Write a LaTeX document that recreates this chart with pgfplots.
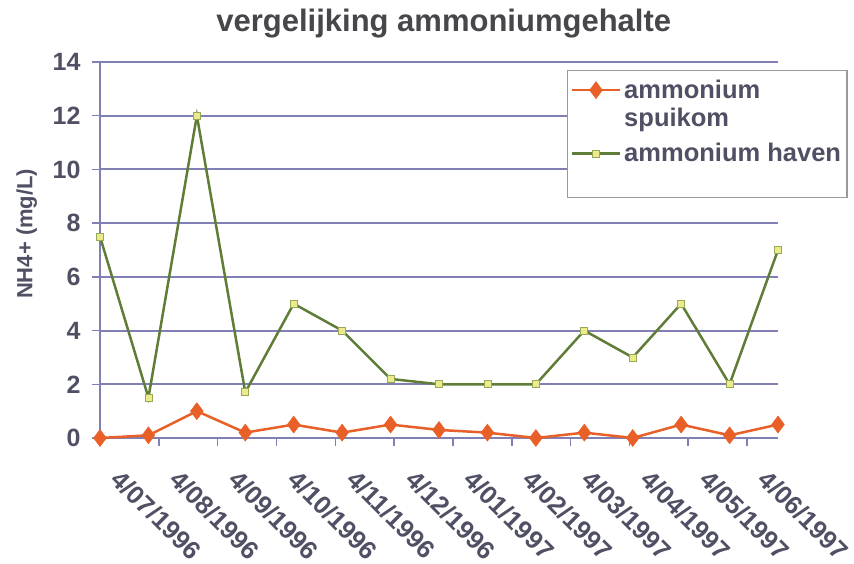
\documentclass[border=0pt]{standalone}
\usepackage{fontspec}
\setmainfont{Liberation Sans}
\usepackage{pgfplots}
\pgfplotsset{compat=1.18}
\definecolor{gridc}{RGB}{128,128,180}
\definecolor{txt}{RGB}{80,80,100}
\definecolor{ttl}{RGB}{70,70,75}
\definecolor{orng}{RGB}{232,96,40}
\definecolor{grn}{RGB}{95,125,55}
\definecolor{ylw}{RGB}{235,235,140}
\begin{document}
\begin{tikzpicture}[x=1pt,y=1pt]
\useasboundingbox (0,0) rectangle (854,563);
\begin{axis}[
  at={(100pt,125pt)}, anchor=south west,
  width=678pt, height=376pt, scale only axis,
  xmin=0, xmax=14, ymin=0, ymax=14,
  ytick={0,2,4,6,8,10,12,14},
  xtick={0,1.2146,2.4292,3.6438,4.8584,6.0730,7.2876,8.5022,9.7168,10.9314,12.1460,13.3606},
  xticklabels={4/07/1996,4/08/1996,4/09/1996,4/10/1996,4/11/1996,4/12/1996,4/01/1997,4/02/1997,4/03/1997,4/04/1997,4/05/1997,4/06/1997},
  axis x line*=bottom, axis y line*=left,
  axis line style={-, gridc, line width=1.5pt},
  ymajorgrids, grid style={gridc, line width=2pt},
  tick align=outside,
  major tick length=8pt,
  tick style={gridc, line width=1.5pt},
  /pgf/number format/assume math mode=true,
  yticklabel style={xshift=-8pt, font=\fontsize{25}{29}\selectfont\bfseries, text=txt},
  xticklabel style={xshift=23pt, yshift=-22pt, rotate=-45, anchor=north west, inner sep=0pt, font=\fontsize{25.5}{29}\selectfont\bfseries, text=txt},
  title={vergelijking ammoniumgehalte},
  title style={at={(axis description cs:0.507,1.064)}, anchor=base, font=\fontsize{31}{36}\selectfont\bfseries, text=ttl},
  ylabel={NH4+ (mg/L)},
  ylabel style={at={(axis description cs:-0.108,0.543)}, anchor=center, font=\fontsize{22}{26}\selectfont\bfseries, text=txt},
  legend image code/.code={\draw[#1,mark repeat=2,mark phase=2] plot coordinates {(0pt,8pt)(24pt,8pt)(48pt,8pt)};},
  legend style={at={(axis description cs:0.689,0.979)}, anchor=north west, draw=gray!80, line width=1.2pt, fill=white, font=\fontsize{25.5}{28}\selectfont\bfseries, text=txt, inner xsep=3pt, inner ysep=5pt, nodes={inner sep=3pt}, cells={anchor=base west}},
]
\addplot[color=orng, line width=2.5pt, mark=diamond*, mark size=8.5pt, mark options={solid, fill=orng, line width=0.5pt}]
coordinates {(0,0) (1,0.1) (2,1.0) (3,0.2) (4,0.5) (5,0.2) (6,0.5) (7,0.3) (8,0.2) (9,0) (10,0.2) (11,0) (12,0.5) (13,0.1) (14,0.5)};
\addlegendentry[text depth=39pt]{\begin{tabular}[t]{@{}l@{}}ammonium\\spuikom\end{tabular}}
\addplot[color=grn, line width=2.5pt, mark=square*, mark size=3.5pt, mark options={solid, fill=ylw, draw=grn!60!ylw, line width=0.8pt}]
coordinates {(0,7.5) (1,1.5) (2,12) (3,1.7) (4,5) (5,4) (6,2.2) (7,2) (8,2) (9,2) (10,4) (11,3) (12,5) (13,2) (14,7)};
\addlegendentry[text depth=28pt]{ammonium haven}
\end{axis}
\end{tikzpicture}
\end{document}
